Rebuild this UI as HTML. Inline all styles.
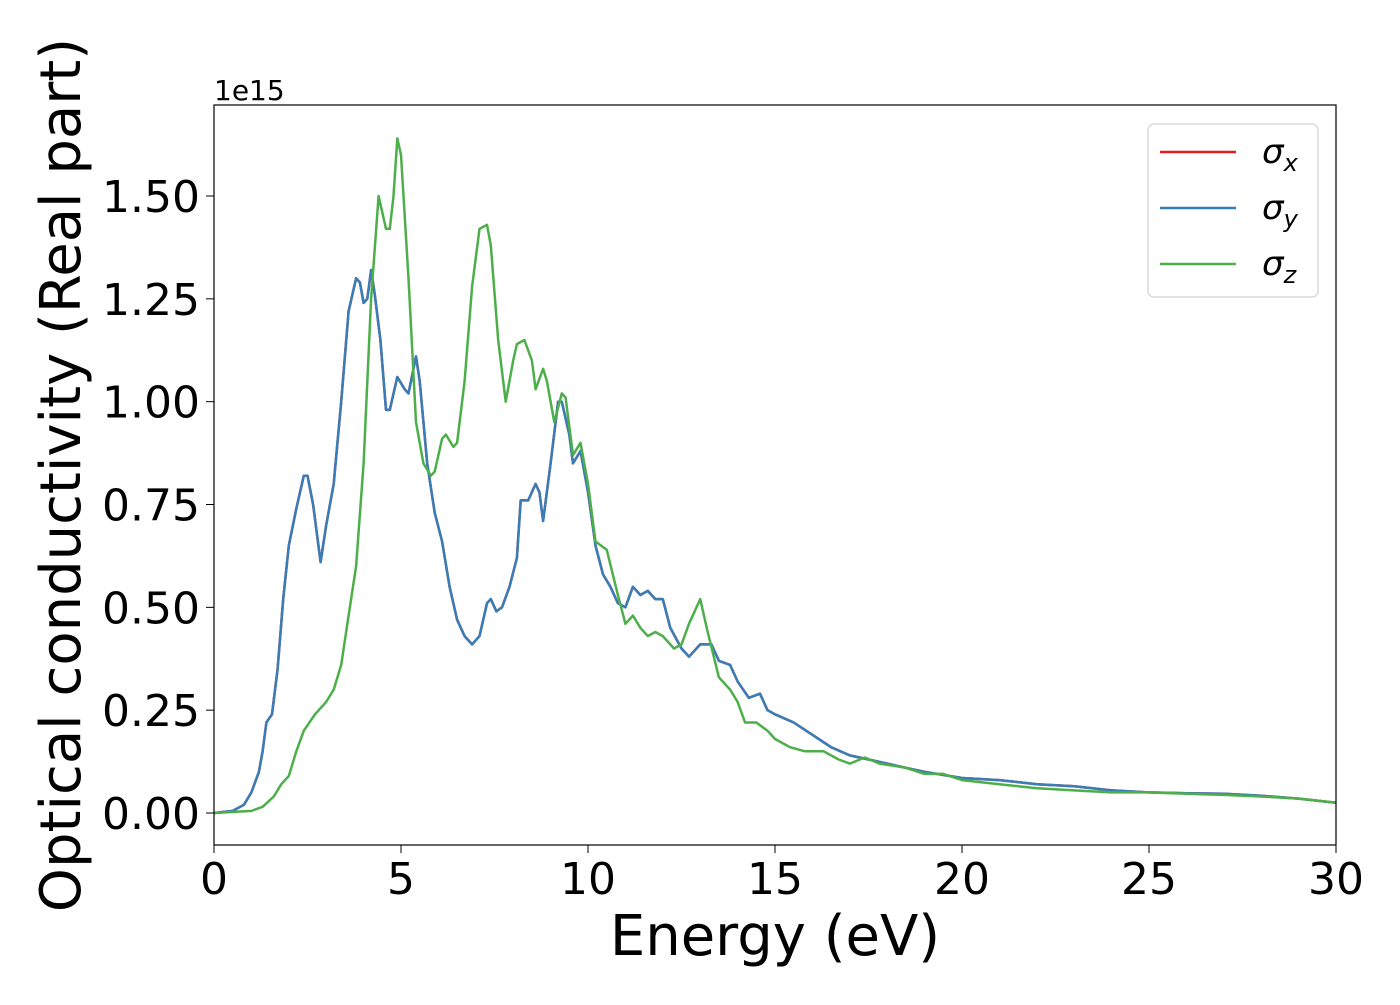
<!DOCTYPE html>
<html><head><meta charset="utf-8"><style>
body{margin:0;background:#fff;}
svg text{font-family:"DejaVu Sans","Liberation Sans",sans-serif;fill:#000;}
</style></head><body>
<svg id="chart" width="1400" height="1000" viewBox="0 0 1400 1000" xmlns="http://www.w3.org/2000/svg">
<rect x="0" y="0" width="1400" height="1000" fill="#fff"/>
<g id="marks"></g>
<rect x="214" y="105" width="1122" height="740" fill="none" stroke="#000" stroke-width="1.2"/>
<g id="xticks"></g><g id="yticks"></g>
<text x="214" y="100" font-size="28">1e15</text>
<text x="775" y="955" font-size="56" text-anchor="middle">Energy (eV)</text>
<text transform="translate(80,475) rotate(-90)" font-size="56" text-anchor="middle">Optical conductivity (Real part)</text>
<g>
<rect x="1148" y="124" width="170" height="173" rx="6" fill="#fff" stroke="#ccc" stroke-width="1.2" opacity="0.9"/>
<line x1="1160" y1="152" x2="1236" y2="152" stroke="#e41a1c" stroke-width="2.5"/>
<text x="1262" y="163" font-size="34" font-style="italic">σ<tspan font-size="24" dy="8">x</tspan></text>
<line x1="1160" y1="208" x2="1236" y2="208" stroke="#377eb8" stroke-width="2.5"/>
<text x="1262" y="219" font-size="34" font-style="italic">σ<tspan font-size="24" dy="8">y</tspan></text>
<line x1="1160" y1="264" x2="1236" y2="264" stroke="#4daf4a" stroke-width="2.5"/>
<text x="1262" y="275" font-size="34" font-style="italic">σ<tspan font-size="24" dy="8">z</tspan></text>
</g>
</svg>
<script>
const xTicks=[0,5,10,15,20,25,30];
const yTicks=[0,0.25,0.5,0.75,1.0,1.25,1.5];
const yTickLabels=["0.00","0.25","0.50","0.75","1.00","1.25","1.50"];
const energyXY=[0,0.5,0.8,1.0,1.2,1.3,1.4,1.55,1.7,1.85,2.0,2.2,2.4,2.5,2.65,2.85,3.0,3.2,3.4,3.6,3.8,3.9,4.0,4.1,4.2,4.3,4.45,4.6,4.7,4.9,5.1,5.2,5.4,5.5,5.7,5.9,6.1,6.3,6.5,6.7,6.9,7.1,7.3,7.4,7.55,7.7,7.9,8.1,8.2,8.4,8.6,8.7,8.8,9.0,9.2,9.3,9.5,9.6,9.8,10.0,10.2,10.4,10.6,10.8,11.0,11.2,11.4,11.6,11.8,12.0,12.2,12.5,12.7,13.0,13.3,13.5,13.8,14.0,14.3,14.6,14.8,15.0,15.5,16,16.5,17,17.5,18,18.5,19,20,21,22,23,24,25,26,27,28,29,30];
const sigmaY=[0,0.005,0.02,0.05,0.1,0.15,0.22,0.24,0.35,0.52,0.65,0.74,0.82,0.82,0.75,0.61,0.7,0.8,1.0,1.22,1.3,1.29,1.24,1.25,1.32,1.26,1.15,0.98,0.98,1.06,1.03,1.02,1.11,1.05,0.85,0.73,0.66,0.55,0.47,0.43,0.41,0.43,0.51,0.52,0.49,0.5,0.55,0.62,0.76,0.76,0.8,0.78,0.71,0.85,1.0,1.0,0.92,0.85,0.88,0.78,0.65,0.58,0.55,0.51,0.5,0.55,0.53,0.54,0.52,0.52,0.45,0.4,0.38,0.41,0.41,0.37,0.36,0.32,0.28,0.29,0.25,0.24,0.22,0.19,0.16,0.14,0.13,0.12,0.11,0.1,0.085,0.08,0.07,0.065,0.055,0.05,0.048,0.047,0.042,0.035,0.025];
const sigmaX=sigmaY.slice();
const energyZ=[0,1,1.3,1.6,1.8,2.0,2.2,2.4,2.7,3.0,3.2,3.4,3.6,3.8,4.0,4.2,4.4,4.6,4.7,4.8,4.9,5.0,5.2,5.4,5.6,5.8,5.9,6.1,6.2,6.4,6.5,6.7,6.9,7.1,7.3,7.4,7.6,7.8,8.0,8.1,8.3,8.5,8.6,8.8,8.9,9.1,9.3,9.4,9.6,9.8,10.0,10.2,10.5,10.8,11.0,11.2,11.4,11.6,11.8,12.0,12.3,12.5,12.7,12.9,13.0,13.2,13.5,13.8,14.0,14.2,14.5,14.8,15,15.4,15.8,16.3,16.7,17,17.4,17.8,18.5,19,19.5,20,21,22,23,24,25,26,27,28,29,30];
const sigmaZ=[0,0.005,0.015,0.04,0.07,0.09,0.15,0.2,0.24,0.27,0.3,0.36,0.48,0.6,0.85,1.25,1.5,1.42,1.42,1.5,1.64,1.6,1.3,0.95,0.85,0.82,0.83,0.91,0.92,0.89,0.9,1.05,1.28,1.42,1.43,1.38,1.15,1.0,1.1,1.14,1.15,1.1,1.03,1.08,1.05,0.95,1.02,1.01,0.87,0.9,0.8,0.66,0.64,0.53,0.46,0.48,0.45,0.43,0.44,0.43,0.4,0.41,0.46,0.5,0.52,0.44,0.33,0.3,0.27,0.22,0.22,0.2,0.18,0.16,0.15,0.15,0.13,0.12,0.135,0.12,0.11,0.095,0.095,0.08,0.07,0.06,0.055,0.05,0.05,0.047,0.044,0.04,0.035,0.025];
const NS="http://www.w3.org/2000/svg";
const X=v=>214+v*1122/30;
const Y=v=>813-v*(813-196)/1.5;
const marks=document.getElementById('marks');
function line(xs,ys,color,name){
  const p=document.createElementNS(NS,'path');
  p.setAttribute('d',xs.map((x,i)=>(i?'L':'M')+X(x).toFixed(1)+','+Y(ys[i]).toFixed(1)).join(''));
  p.setAttribute('fill','none');p.setAttribute('stroke',color);p.setAttribute('stroke-width','2.5');p.setAttribute('stroke-linejoin','round');
  
  
  marks.appendChild(p);
}
line(energyXY,sigmaX,'#e41a1c','sigma-x-line');
line(energyXY,sigmaY,'#377eb8','sigma-y-line');
line(energyZ,sigmaZ,'#4daf4a','sigma-z-line');
const xt=document.getElementById('xticks');
xTicks.forEach(v=>{
  const l=document.createElementNS(NS,'line');
  l.setAttribute('x1',X(v));l.setAttribute('x2',X(v));l.setAttribute('y1',845);l.setAttribute('y2',853);l.setAttribute('stroke','#000');
  
  
  xt.appendChild(l);
  const t=document.createElementNS(NS,'text');
  t.setAttribute('x',X(v));t.setAttribute('y',894);t.setAttribute('font-size','44');t.setAttribute('text-anchor','middle');
  t.textContent=v;
  
  
  xt.appendChild(t);
});
const yt=document.getElementById('yticks');
yTicks.forEach((v,i)=>{
  const l=document.createElementNS(NS,'line');
  l.setAttribute('x1',206);l.setAttribute('x2',214);l.setAttribute('y1',Y(v));l.setAttribute('y2',Y(v));l.setAttribute('stroke','#000');
  
  
  yt.appendChild(l);
  const t=document.createElementNS(NS,'text');
  t.setAttribute('x',200);t.setAttribute('y',Y(v)+16);t.setAttribute('font-size','44');t.setAttribute('text-anchor','end');
  t.textContent=yTickLabels[i];
  
  
  yt.appendChild(t);
});
</script>
</body></html>
